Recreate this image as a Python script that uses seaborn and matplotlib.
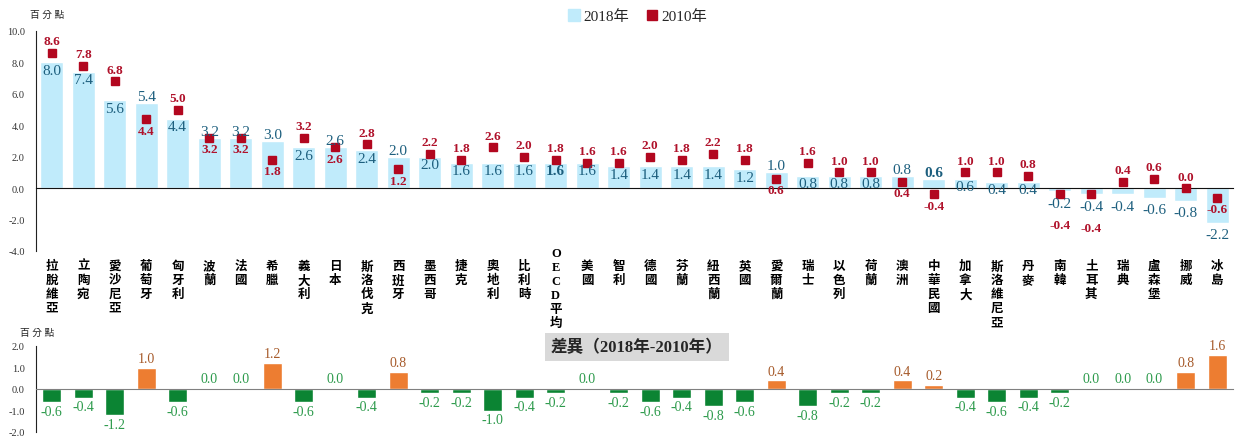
import numpy as np
import pandas as pd
import matplotlib.pyplot as plt
import seaborn as sns
from matplotlib.lines import Line2D

# Data
countries = ['拉脫維亞', '立陶宛', '愛沙尼亞', '葡萄牙', '匈牙利', '波蘭', '法國', '希臘', '義大利', '日本',
             '斯洛伐克', '西班牙', '墨西哥', '捷克', '奧地利', '比利時', 'OECD平均', '美國', '智利', '德國',
             '芬蘭', '紐西蘭', '英國', '愛爾蘭', '瑞士', '以色列', '荷蘭', '澳洲', '中華民國', '加拿大',
             '斯洛維尼亞', '丹麥', '南韓', '土耳其', '瑞典', '盧森堡', '挪威', '冰島']
v2018 = [8.0, 7.4, 5.6, 5.4, 4.4, 3.2, 3.2, 3.0, 2.6, 2.6,
         2.4, 2.0, 2.0, 1.6, 1.6, 1.6, 1.6, 1.6, 1.4, 1.4,
         1.4, 1.4, 1.2, 1.0, 0.8, 0.8, 0.8, 0.8, 0.6, 0.6,
         0.4, 0.4, -0.2, -0.4, -0.4, -0.6, -0.8, -2.2]
v2010 = [8.6, 7.8, 6.8, 4.4, 5.0, 3.2, 3.2, 1.8, 3.2, 2.6,
         2.8, 1.2, 2.2, 1.8, 2.6, 2.0, 1.8, 1.6, 1.6, 2.0,
         1.8, 2.2, 1.8, 0.6, 1.6, 1.0, 1.0, 0.4, -0.4, 1.0,
         1.0, 0.8, -0.4, -0.4, 0.4, 0.6, 0.0, -0.6]
diff = [-0.6, -0.4, -1.2, 1.0, -0.6, 0.0, 0.0, 1.2, -0.6, 0.0,
        -0.4, 0.8, -0.2, -0.2, -1.0, -0.4, -0.2, 0.0, -0.2, -0.6,
        -0.4, -0.8, -0.6, 0.4, -0.8, -0.2, -0.2, 0.4, 0.2, -0.4,
        -0.6, -0.4, -0.2, 0.0, 0.0, 0.0, 0.8, 1.6]

sns.set_style('white')
plt.rcParams['font.family'] = ['Liberation Serif', 'Noto Sans CJK TC', 'DejaVu Sans']

BLUE = '#c0ebfb'
RED = '#b2071f'
TXT18 = '#1d5f7e'
TXT10 = '#b0122b'
ORANGE = '#ed7d31'
GREEN = '#0b8433'
TXT_OR = '#a65a2a'
TXT_GR = '#2c9a4b'

n = len(countries)
xs = np.arange(n)
df = pd.DataFrame({'country': countries, 'v2018': v2018, 'v2010': v2010, 'diff': diff})

fig = plt.figure(figsize=(12.37, 4.39), dpi=100)
ax = fig.add_axes([36 / 1237, 1 - 252 / 439, 1197 / 1237, 220 / 439])
ax2 = fig.add_axes([36 / 1237, 1 - 433 / 439, 1197 / 1237, 86 / 439])

# top chart: bars 2018 + squares 2010
sns.barplot(data=df, x='country', y='v2018', color=BLUE, width=0.72, saturation=1, ax=ax)
ax.plot(xs, df['v2010'], 's', color=RED, markersize=5.5, zorder=3)

for i in range(n):
    a, b = v2018[i], v2010[i]
    bold18 = 'bold' if countries[i] in ('OECD平均', '中華民國') else 'normal'
    kw18 = dict(color=TXT18, fontsize=11, ha='center', fontweight=bold18, textcoords='offset points')
    kw10 = dict(color=TXT10, fontsize=9.5, ha='center', fontweight='bold', textcoords='offset points')
    if a >= 0:
        if b > a or (b == a and a < 2):
            ax.annotate(f'{a:.1f}', (i, a), xytext=(0, -1), va='top', **kw18)
            ax.annotate(f'{b:.1f}', (i, b), xytext=(0, 4), va='bottom', **kw10)
        else:
            ax.annotate(f'{a:.1f}', (i, a), xytext=(0, 0), va='bottom', **kw18)
            ax.annotate(f'{b:.1f}', (i, b), xytext=(0, -4), va='top', **kw10)
    else:
        ax.annotate(f'{a:.1f}', (i, a), xytext=(0, -4), va='top', **kw18)
        if b >= 0:
            ax.annotate(f'{b:.1f}', (i, b), xytext=(0, 4), va='bottom', **kw10)
        elif b <= a:
            ax.annotate(f'{b:.1f}', (i, a), xytext=(0, -20), va='top', **kw10)
        else:
            ax.annotate(f'{b:.1f}', (i, b), xytext=(0, -4), va='top', **kw10)

ax.set_xlim(-0.5, n - 0.5)
ax.set_ylim(-4, 10)
ax.set_yticks(np.arange(-4, 10.1, 2))
ax.set_yticklabels([f'{t:.1f}' for t in np.arange(-4, 10.1, 2)], fontsize=7.5, color='#333333')
ax.set_xticks(np.arange(0.5, n - 0.5, 1))
ax.set_xticklabels([])
ax.set_xlabel('')
ax.set_ylabel('')
for s in ['top', 'right']:
    ax.spines[s].set_visible(False)
ax.spines['left'].set_color('#222222')
ax.spines['bottom'].set_position(('data', 0))
ax.spines['bottom'].set_color('#111111')
ax.tick_params(axis='y', direction='in', length=3, pad=8)
ax.tick_params(axis='x', direction='out', length=4, color='#111111')

# vertical country names, one character per line
for i, c in enumerate(countries):
    y0 = 0.02 if c == 'OECD平均' else -0.04
    ax.text(i, y0, '\n'.join(c), transform=ax.get_xaxis_transform(), ha='center', va='top',
            fontsize=9, fontweight='bold', linespacing=1.22, color='black')

# legend
handles = [Line2D([], [], marker='s', linestyle='none', color=BLUE, markersize=8),
           Line2D([], [], marker='s', linestyle='none', color=RED, markersize=7)]
fig.legend(handles, ['2018年', '2010年'], loc='center', bbox_to_anchor=(0.515, 1 - 17 / 439), ncol=2,
           frameon=False, fontsize=11, handletextpad=0.1, columnspacing=1.0, handlelength=1.0)

fig.text(30 / 1237, 1 - 15 / 439, '百 分 點', fontsize=7, va='center', ha='left')
fig.text(20 / 1237, 1 - 333 / 439, '百 分 點', fontsize=7, va='center', ha='left')

# bottom chart: difference
colors = [ORANGE if d > 0 else GREEN for d in diff]
sns.barplot(data=df, x='country', y='diff', hue='country', palette=colors, legend=False,
            width=0.6, saturation=1, ax=ax2)
for i, d in enumerate(diff):
    if d > 0:
        ax2.annotate(f'{d:.1f}', (i, d), xytext=(0, 2), textcoords='offset points', ha='center',
                     va='bottom', color=TXT_OR, fontsize=10)
    elif d < 0:
        ax2.annotate(f'{d:.1f}', (i, d), xytext=(0, -2), textcoords='offset points', ha='center',
                     va='top', color=TXT_GR, fontsize=10)
    else:
        ax2.annotate(f'{d:.1f}', (i, d), xytext=(0, 3), textcoords='offset points', ha='center',
                     va='bottom', color=TXT_GR, fontsize=10)

ax2.set_xlim(-0.5, n - 0.5)
ax2.set_ylim(-2, 2)
ax2.set_yticks(np.arange(-2, 2.1, 1))
ax2.set_yticklabels([f'{t:.1f}' for t in np.arange(-2, 2.1, 1)], fontsize=7.5, color='#333333')
ax2.set_xticks(np.arange(0.5, n - 0.5, 1))
ax2.set_xticklabels([])
ax2.set_xlabel('')
ax2.set_ylabel('')
for s in ['top', 'right']:
    ax2.spines[s].set_visible(False)
ax2.spines['left'].set_color('#222222')
ax2.spines['bottom'].set_position(('data', 0))
ax2.spines['bottom'].set_color('#808080')
ax2.tick_params(axis='y', direction='in', length=3, pad=8)
ax2.tick_params(axis='x', direction='inout', length=5, color='#333333')

fig.text(637 / 1237, 1 - 348 / 439, '差異（2018年-2010年）', fontsize=12, fontweight='bold',
         ha='center', va='center',
         bbox=dict(facecolor='#d9d9d9', edgecolor='none', boxstyle='square,pad=0.35'))

fig.savefig('out.png', dpi=100)
